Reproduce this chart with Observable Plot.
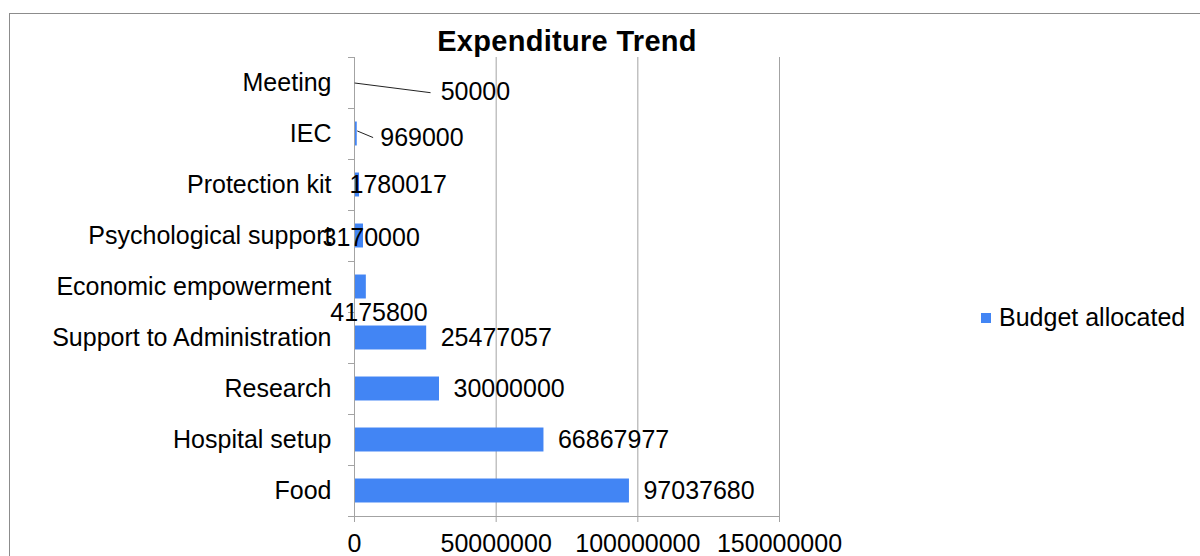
<!DOCTYPE html>
<html>
<head>
<meta charset="utf-8">
<script src="https://cdn.jsdelivr.net/npm/d3@7"></script>
<script src="https://cdn.jsdelivr.net/npm/@observablehq/plot@0.6"></script>
<style>
  html, body { margin: 0; padding: 0; background: #fff; }
  body { width: 1200px; height: 556px; overflow: hidden; font-family: "Liberation Sans", Arial, sans-serif; }
  #wrap { position: relative; width: 1200px; height: 556px; }
  #frame { position: absolute; left: 9px; top: 13px; right: -2px; bottom: -2px; border-top: 1px solid #8c8c8c; border-left: 1px solid #8c8c8c; pointer-events: none; }
  #titlebox { position: relative; height: 56px; }
  #title { position: absolute; left: 567px; top: 27px; transform: translateX(-50%); font-size: 29px; line-height: 29px; font-weight: bold; letter-spacing: 0.3px; color: #000; white-space: nowrap; }
  #legend { position: absolute; left: 981px; top: 305px; display: flex; align-items: center; font-size: 25px; line-height: 25px; color: #000; white-space: nowrap; }
  #legend .sw { width: 10px; height: 10px; margin-right: 8px; }
  #chart svg { display: block; overflow: visible; }
</style>
</head>
<body>
<div id="wrap">
  <div id="frame"></div>
  <div id="titlebox"><div id="title"></div></div>
  <div id="chart"></div>
  <div id="legend"><div class="sw"></div><span></span></div>
</div>
<script>
const chartTitle = "Expenditure Trend";
const seriesName = "Budget allocated";
const categories = ["Meeting", "IEC", "Protection kit", "Psychological support", "Economic empowerment", "Support to Administration", "Research", "Hospital setup", "Food"];
const budget = [50000, 969000, 1780017, 3170000, 4175800, 25477057, 30000000, 66867977, 97037680];
const xTicks = [0, 50000000, 100000000, 150000000];

const barColor = "#4285F4";
const gridColor = "#a3a3a3";
const font = "'Liberation Sans', Arial, sans-serif";

document.getElementById("title").textContent = chartTitle;
document.querySelector("#legend span").textContent = seriesName;
document.querySelector("#legend .sw").style.background = barColor;

const data = categories.map((c, i) => ({category: c, i, value: budget[i]}));
const half = 0.235;

const label = (i, dx, dy) => Plot.text([data[i]], {
  x: "value", y: "i", text: d => String(d.value), textAnchor: "start",
  dx, dy, fontSize: 25, fill: "#000"
});

const chart = Plot.plot({
  width: 1200,
  height: 500,
  marginLeft: 354,
  marginRight: 421,
  marginTop: 1,
  marginBottom: 40,
  style: {fontFamily: font, fontSize: "25px", color: "#000", background: "transparent", overflow: "visible"},
  x: {domain: [xTicks[0], xTicks[xTicks.length - 1]], label: null},
  y: {domain: [-0.5, categories.length - 0.5], reverse: true, label: null},
  marks: [
    Plot.ruleX(xTicks.slice(1), {stroke: gridColor, strokeWidth: 1}),
    Plot.rect(data, {x1: 0, x2: "value", y1: d => d.i - half, y2: d => d.i + half, fill: barColor}),
    Plot.ruleX([0], {stroke: gridColor}),
    Plot.ruleY([categories.length - 0.5], {stroke: gridColor}),
    Plot.axisY({ticks: d3.range(categories.length + 1).map(k => k - 0.5), tickFormat: () => "", tickSize: 6, stroke: gridColor, label: null}),
    Plot.axisY({ticks: d3.range(categories.length), tickFormat: i => categories[i], tickSize: 0, tickPadding: 23, fontSize: 25, fill: "#000", label: null}),
    Plot.axisX({ticks: xTicks, tickFormat: d => String(d), tickSize: 6, tickPadding: 12, fontSize: 25, stroke: gridColor, fill: "#000", label: null}),
    // leader lines
    Plot.link([data[0]], {x1: "value", y1: "i", x2: d => d.value + 26.8e6, y2: d => d.i + 0.19, stroke: "#222", strokeWidth: 1}),
    Plot.link([data[1]], {x1: "value", y1: d => d.i - 0.06, x2: d => d.value + 5.6e6, y2: d => d.i + 0.07, stroke: "#222", strokeWidth: 1}),
    // data labels
    label(0, 86, 9),
    label(1, 23, 4),
    label(2, -10, 0),
    label(3, -41, 2),
    label(4, -36, 26),
    Plot.text(data.filter(d => d.i >= 5), {x: "value", y: "i", text: d => String(d.value), textAnchor: "start", dx: 14, fontSize: 25, fill: "#000"})
  ]
});
document.getElementById("chart").appendChild(chart);
</script>
</body>
</html>
